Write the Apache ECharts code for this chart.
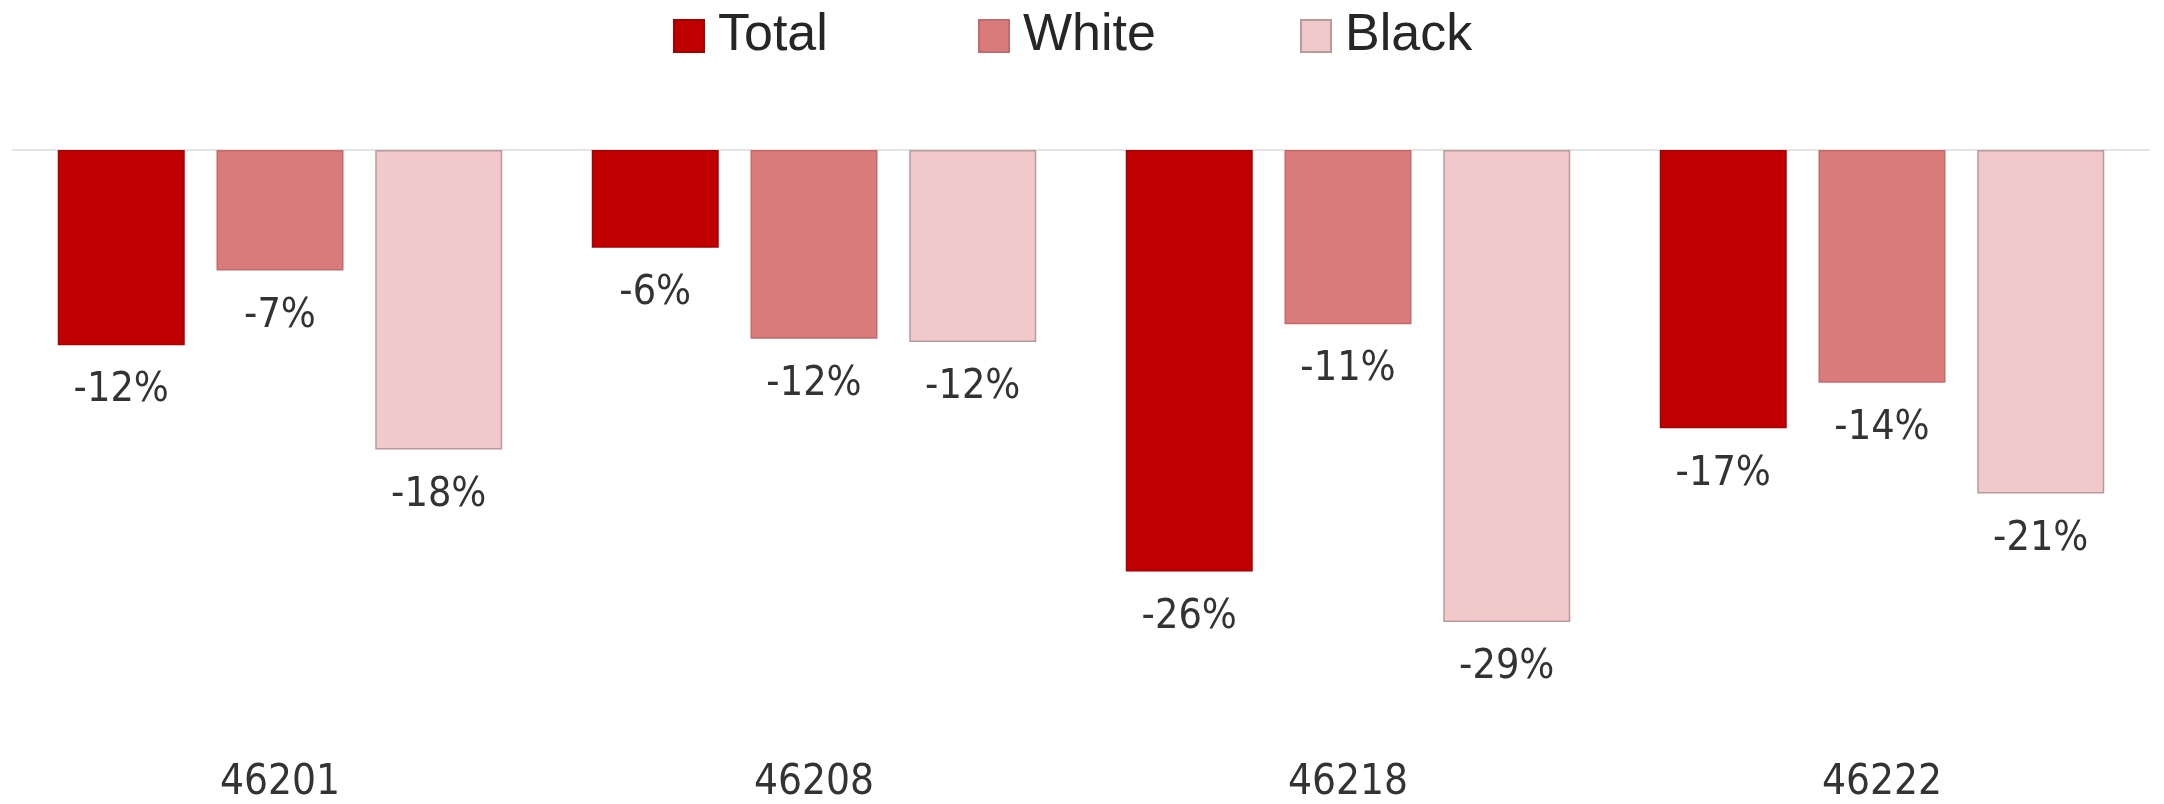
<!DOCTYPE html>
<html>
<head>
<meta charset="utf-8">
<script src="https://cdn.jsdelivr.net/npm/echarts@6/dist/echarts.min.js"></script>
<style>
html,body{margin:0;padding:0;background:#fff;}
#chart{width:2164px;height:804px;}
</style>
</head>
<body>
<div id="chart"></div>
<script>
var categories = ['46201', '46208', '46218', '46222'];
var seriesNames = ['Total', 'White', 'Black'];
var totalValues = [-12.0, -6.0, -25.9, -17.1];
var whiteValues = [-7.4, -11.6, -10.7, -14.3];
var blackValues = [-18.4, -11.8, -29.0, -21.1];

var colors = ['#c00000', '#d97b7b', '#f2c9ca'];
var borders = ['#a80000', '#c56a6a', '#b89a9b'];
var labelFont = "'DejaVu Sans Condensed', 'DejaVu Sans', sans-serif";

var chart = echarts.init(document.getElementById('chart'));

function makeSeries(name, data, i) {
  return {
    name: name,
    type: 'bar',
    data: data,
    barWidth: 127,
    barGap: '25%',
    itemStyle: { color: colors[i], borderColor: borders[i], borderWidth: 1.5 },
    label: {
      show: true,
      position: 'bottom',
      distance: 25,
      fontFamily: labelFont,
      fontSize: 41,
      color: '#333333',
      formatter: function (p) { return Math.round(p.value) + '%'; }
    },
    emphasis: { disabled: true },
    animation: false
  };
}

var legendLefts = [673, 978, 1300];
var legends = seriesNames.map(function (n, i) {
  return {
    data: [{ name: n, icon: 'rect' }],
    left: legendLefts[i],
    top: 10,
    padding: 0,
    itemWidth: 30,
    itemHeight: 32,
    itemGap: 0,
    selectedMode: false,
    textStyle: { fontFamily: "'Liberation Sans', Arial, sans-serif", fontSize: 52, color: '#262626', padding: [14, 0, 0, 9] }
  };
});

chart.setOption({
  animation: false,
  backgroundColor: '#ffffff',
  legend: legends,
  grid: { left: 13, right: 15, top: 150, bottom: 58, containLabel: false },
  xAxis: [
    {
      type: 'category',
      data: categories,
      position: 'bottom',
      axisLine: { show: false },
      axisTick: { show: false },
      axisLabel: { fontFamily: labelFont, fontSize: 42, color: '#333333', margin: 26 }
    },
    {
      type: 'category',
      data: categories,
      position: 'top',
      axisLine: { show: true, lineStyle: { color: '#e4e4e4', width: 2 } },
      axisTick: { show: false },
      axisLabel: { show: false }
    }
  ],
  yAxis: {
    type: 'value',
    min: -36,
    max: 0,
    show: false,
    splitLine: { show: false }
  },
  series: [
    makeSeries(seriesNames[0], totalValues, 0),
    makeSeries(seriesNames[1], whiteValues, 1),
    makeSeries(seriesNames[2], blackValues, 2)
  ]
});
</script>
</body>
</html>
